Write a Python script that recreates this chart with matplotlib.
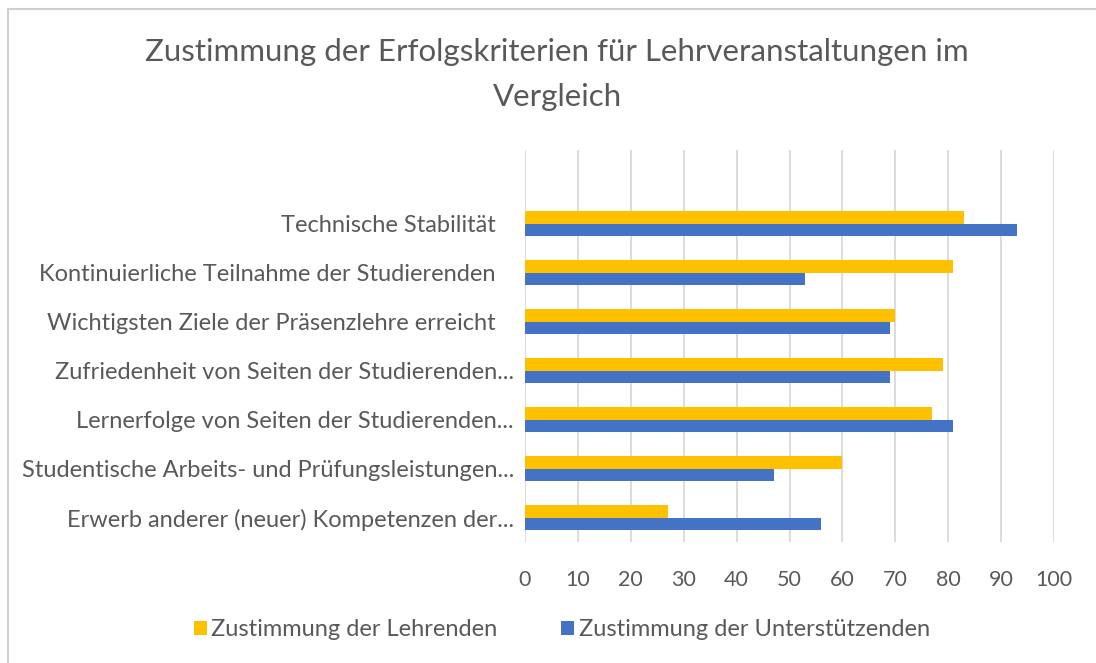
import matplotlib.pyplot as plt
from matplotlib.patches import Rectangle
import numpy as np

# data (bottom to top, as drawn)
categories = [
    "Erwerb anderer (neuer) Kompetenzen der...",
    "Studentische Arbeits- und Prüfungsleistungen...",
    "Lernerfolge von Seiten der Studierenden...",
    "Zufriedenheit von Seiten der Studierenden...",
    "Wichtigsten Ziele der Präsenzlehre erreicht   ",
    "Kontinuierliche Teilnahme der Studierenden   ",
    "Technische Stabilität   ",
]
lehrende = [27, 60, 77, 79, 70, 81, 83]
unterstuetzende = [56, 47, 81, 69, 69, 53, 93]
xticks = [0, 10, 20, 30, 40, 50, 60, 70, 80, 90, 100]

plt.rcParams['font.family'] = ['Lato', 'DejaVu Sans']
txt = '#595959'

fig = plt.figure(figsize=(10.96, 6.63), dpi=100)
ax = fig.add_axes([525 / 1096, 1 - 542 / 663, 529 / 1096, 392 / 663])

y = np.arange(len(categories))
h = 0.255
ax.barh(y + h / 2, lehrende, height=h, color='#FFC000', label='Zustimmung der Lehrenden', zorder=3)
ax.barh(y - h / 2, unterstuetzende, height=h, color='#4472C4', label='Zustimmung der Unterstützenden', zorder=3)

ax.set_xlim(0, 100)
ax.set_ylim(-0.5, len(categories) + 0.5)  # empty slot on top like the excel chart
ax.set_xticks(xticks)
ax.set_yticks(y)
ax.set_yticklabels(categories, fontsize=17)
ax.grid(axis='x', color='#d9d9d9', linewidth=1.3, zorder=0)
for s in ax.spines.values():
    s.set_visible(False)
ax.tick_params(axis='both', length=0, colors=txt)
ax.tick_params(axis='x', pad=20, labelsize=15.5)
ax.tick_params(axis='y', pad=8)

fig.suptitle("Zustimmung der Erfolgskriterien für Lehrveranstaltungen im\nVergleich",
             x=557 / 1096, y=1 - 38 / 663, color=txt, fontsize=22.5, linespacing=1.75)

handles, labels = ax.get_legend_handles_labels()
fig.legend(handles, labels, loc='center', bbox_to_anchor=(562 / 1096, 1 - 630 / 663), ncol=2,
           frameon=False, fontsize=17, labelcolor=txt, handlelength=0.55, handleheight=0.55,
           handletextpad=0.2, columnspacing=2.7)

fig.patches.append(Rectangle((8 / 1096, -0.1), 1.2, 1.1 - 9 / 663, transform=fig.transFigure,
                             fill=False, edgecolor='#d0d0d0', linewidth=1.5))

fig.savefig('out.png', dpi=100)
